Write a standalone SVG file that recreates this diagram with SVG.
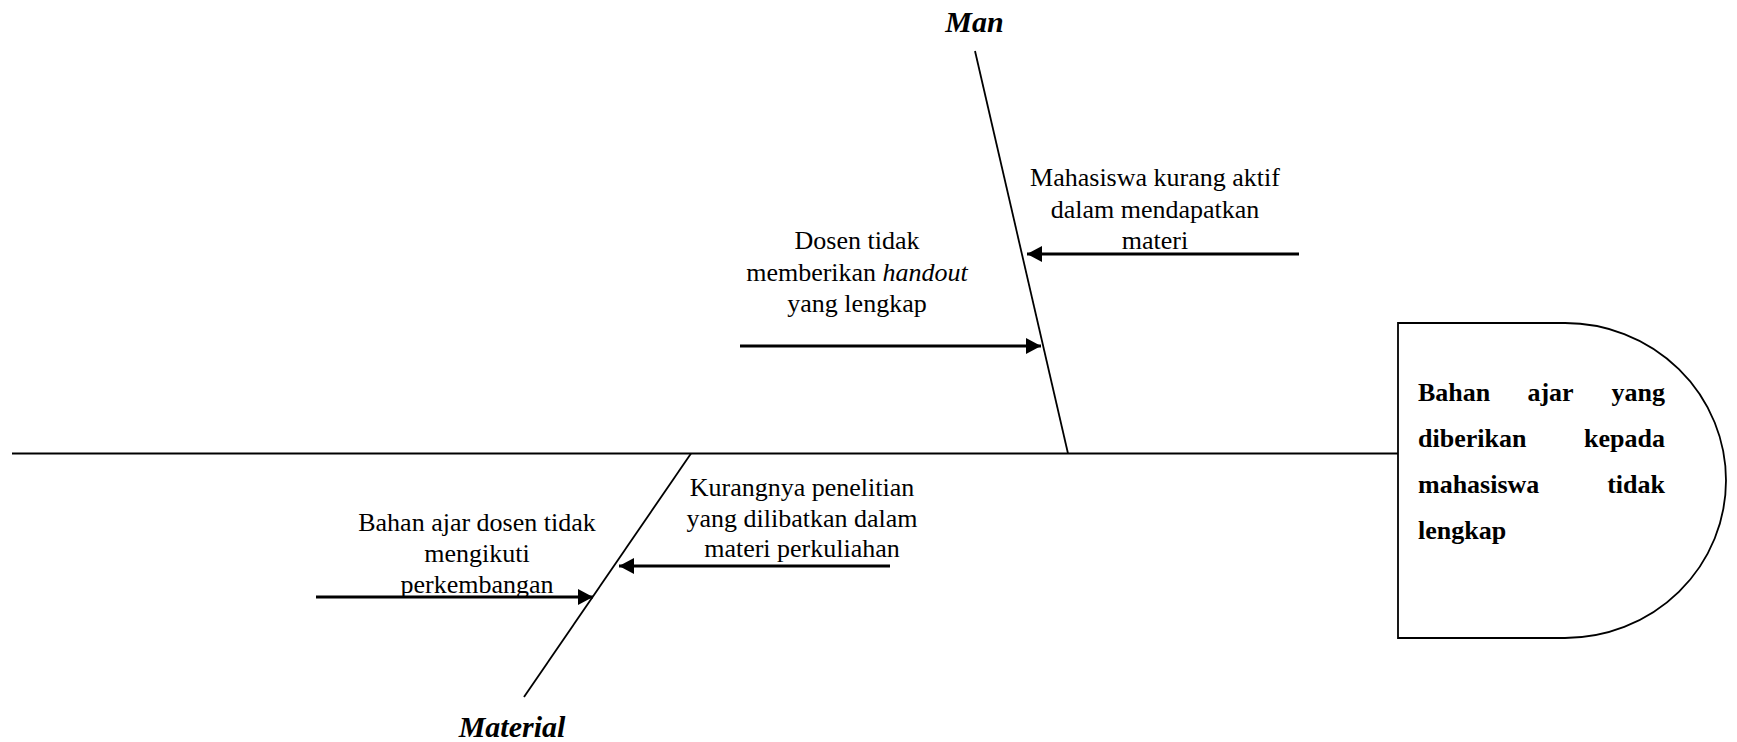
<svg xmlns="http://www.w3.org/2000/svg" width="1737" height="742" viewBox="0 0 1737 742">
  <style>
    .txt { font-family: "Liberation Serif", "Times New Roman", serif; font-size: 26px; fill: #000; }
    .mid { text-anchor: middle; }
    .label { font-family: "Liberation Serif", "Times New Roman", serif; font-size: 30px; font-weight: bold; font-style: italic; text-anchor: middle; fill: #000; }
    .head { font-family: "Liberation Serif", "Times New Roman", serif; font-size: 26px; font-weight: bold; fill: #000; }
    .bone { stroke: #000; stroke-width: 1.8; fill: none; }
    .spine { stroke: #000; stroke-width: 2.2; fill: none; }
    .cause { stroke: #000; stroke-width: 2.8; fill: none; marker-end: url(#arrow); }
  </style>
  <defs>
    <marker id="arrow" markerUnits="userSpaceOnUse" markerWidth="16" markerHeight="17" refX="15" refY="8.5" orient="auto">
      <path d="M0,0.5 L15,8.5 L0,16.5 Z" fill="#000"/>
    </marker>
  </defs>
  <rect width="1737" height="742" fill="#fff"/>

  <g id="connectors">
    <!-- main spine -->
    <line class="spine" x1="12" y1="453.5" x2="1398" y2="453.5"/>
    <!-- Man bone -->
    <line class="bone" x1="975" y1="51" x2="1068" y2="453.5"/>
    <!-- Material bone -->
    <line class="bone" x1="691" y1="453.5" x2="524" y2="697"/>
    <!-- cause arrows -->
    <line class="cause" x1="1299" y1="254" x2="1027" y2="254"/>
    <line class="cause" x1="740" y1="346" x2="1041" y2="346"/>
    <line class="cause" x1="890" y1="566" x2="619" y2="566"/>
    <line class="cause" x1="316" y1="597" x2="593" y2="597"/>
  </g>

  <g id="effect">
    <path d="M1398,323 H1565 A161,157.5 0 0 1 1565,638 H1398 Z" fill="#fff" stroke="#000" stroke-width="1.8"/>
    <text class="head" x="1418" y="401">Bahan</text>
    <text class="head" x="1550.5" y="401" text-anchor="middle">ajar</text>
    <text class="head" x="1665" y="401" text-anchor="end">yang</text>
    <text class="head" x="1418" y="447">diberikan</text>
    <text class="head" x="1665" y="447" text-anchor="end">kepada</text>
    <text class="head" x="1418" y="493">mahasiswa</text>
    <text class="head" x="1665" y="493" text-anchor="end">tidak</text>
    <text class="head" x="1418" y="539">lengkap</text>
  </g>

  <g id="man">
    <text class="label" x="974.5" y="32">Man</text>
  </g>

  <g id="material">
    <text class="label" x="512" y="737">Material</text>
  </g>

  <g id="cause-mahasiswa">
    <text class="txt mid" x="1155" y="186">Mahasiswa kurang aktif</text>
    <text class="txt mid" x="1155" y="217.5">dalam mendapatkan</text>
    <text class="txt mid" x="1155" y="249">materi</text>
  </g>

  <g id="cause-dosen">
    <text class="txt mid" x="857" y="249">Dosen tidak</text>
    <text class="txt mid" x="857" y="280.5">memberikan <tspan font-style="italic">handout</tspan></text>
    <text class="txt mid" x="857" y="312">yang lengkap</text>
  </g>

  <g id="cause-penelitian">
    <text class="txt mid" x="802" y="495.5">Kurangnya penelitian</text>
    <text class="txt mid" x="802" y="526.5">yang dilibatkan dalam</text>
    <text class="txt mid" x="802" y="557">materi perkuliahan</text>
  </g>

  <g id="cause-bahan">
    <text class="txt mid" x="477" y="531">Bahan ajar dosen tidak</text>
    <text class="txt mid" x="477" y="562">mengikuti</text>
    <text class="txt mid" x="477" y="592.5">perkembangan</text>
  </g>
</svg>
